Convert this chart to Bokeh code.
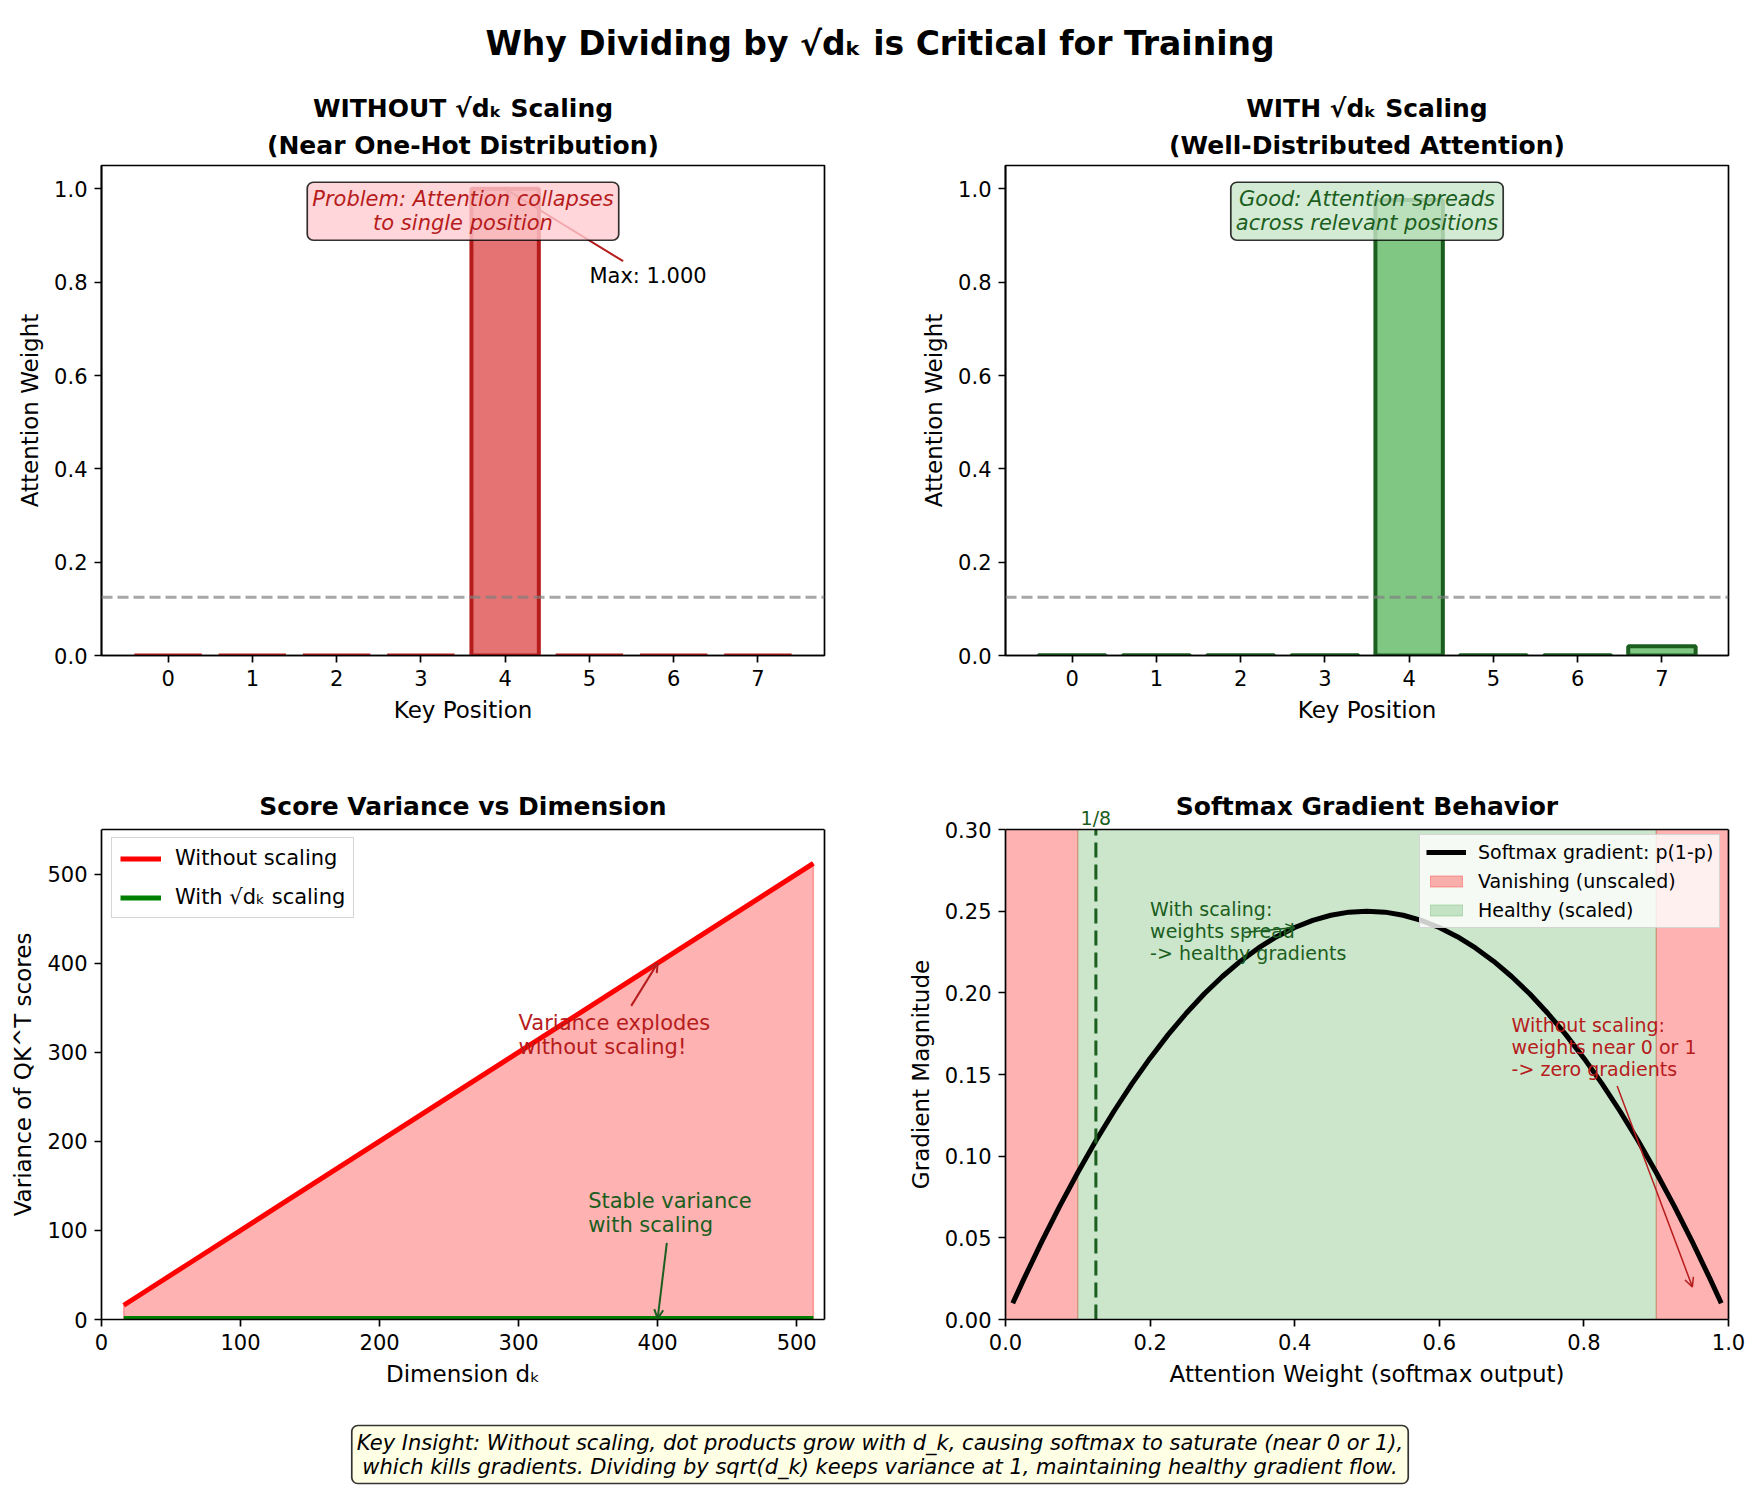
from bokeh.plotting import figure
from bokeh.models import (Range1d, FixedTicker, NumeralTickFormatter, Span, Label, Arrow,
                          OpenHead, Title, Legend, LegendItem, LinearAxis)
from bokeh.layouts import column, row
from bokeh.embed import file_html
from bokeh.resources import INLINE

FONT = "DejaVu Sans"

# --- attention weights over 8 key positions ---------------------------------
positions = [0, 1, 2, 3, 4, 5, 6, 7]
weights_unscaled = [0.0, 0.0, 0.0, 0.0, 1.0, 0.0, 0.0, 0.0]
weights_scaled = [0.0006, 0.0004, 0.0005, 0.0006, 0.976, 0.0005, 0.0004, 0.020]
attn_ticks = [0.0, 0.2, 0.4, 0.6, 0.8, 1.0]

# --- variance of QK^T scores vs key dimension ---------------------------------
dims = [16, 32, 64, 128, 256, 512]
var_unscaled = [16, 32, 64, 128, 256, 512]
var_scaled = [1, 1, 1, 1, 1, 1]
dim_ticks = [0, 100, 200, 300, 400, 500]
var_ticks = [0, 100, 200, 300, 400, 500]
var_ymax = 550

# --- softmax gradient p(1-p) ---------------------------------------------------
probs = [0.01, 0.025, 0.05, 0.075, 0.1, 0.125, 0.15, 0.175, 0.2, 0.225, 0.25,
         0.275, 0.3, 0.325, 0.35, 0.375, 0.4, 0.425, 0.45, 0.475, 0.5, 0.525,
         0.55, 0.575, 0.6, 0.625, 0.65, 0.675, 0.7, 0.725, 0.75, 0.775, 0.8,
         0.825, 0.85, 0.875, 0.9, 0.925, 0.95, 0.975, 0.99]
grads = [0.0099, 0.0244, 0.0475, 0.0694, 0.0900, 0.1094, 0.1275, 0.1444, 0.1600,
         0.1744, 0.1875, 0.1994, 0.2100, 0.2194, 0.2275, 0.2344, 0.2400, 0.2444,
         0.2475, 0.2494, 0.2500, 0.2494, 0.2475, 0.2444, 0.2400, 0.2344, 0.2275,
         0.2194, 0.2100, 0.1994, 0.1875, 0.1744, 0.1600, 0.1444, 0.1275, 0.1094,
         0.0900, 0.0694, 0.0475, 0.0244, 0.0099]
vanish_left = [0.0, 0.9]
vanish_right = [0.1, 1.0]
healthy_left = [0.1]
healthy_right = [0.9]
grad_ymax = 0.30
prob_ticks = [0.0, 0.2, 0.4, 0.6, 0.8, 1.0]
grad_ticks = [0.0, 0.05, 0.10, 0.15, 0.20, 0.25, 0.30]

uniform = 1 / len(positions)

RED_FILL, RED_EDGE = "#e57373", "#b71c1c"
GREEN_FILL, GREEN_EDGE = "#81c784", "#1b5e20"
RED_TEXT, GREEN_TEXT = "#b71c1c", "#1b5e20"

FRAME_W, FRAME_H = 723, 490
LINE_H = 1.0
LABEL_PX = 23


def style_axis(ax):
    ax.axis_line_width = 1.7
    ax.major_tick_line_width = 1.7
    ax.major_tick_out = 7
    ax.major_tick_in = 0
    ax.minor_tick_out = 0
    ax.minor_tick_in = 0
    ax.major_label_standoff = 7
    ax.major_label_text_font = FONT
    ax.major_label_text_font_size = "21px"
    ax.major_label_text_color = "black"
    ax.axis_label_text_font = FONT
    ax.axis_label_text_font_size = f"{LABEL_PX}px"
    ax.axis_label_text_font_style = "normal"
    ax.axis_label_text_color = "black"
    ax.axis_label_standoff = 8


def base_fig(width, left, right, top, bottom, x_range, y_range, frame_h=FRAME_H):
    p = figure(width=width, height=top + frame_h + bottom, x_range=x_range, y_range=y_range,
               output_backend="svg", toolbar_location=None,
               min_border_left=left, min_border_right=right,
               min_border_top=top, min_border_bottom=bottom)
    p.title = None
    p.xgrid.visible = False
    p.ygrid.visible = False
    p.outline_line_color = "black"
    p.outline_line_width = 1.7
    p.background_fill_color = "white"
    p.border_fill_color = "white"
    style_axis(p.xaxis[0])
    style_axis(p.yaxis[0])
    return p


def add_titles(p, lines, standoff):
    # Titles placed 'above' stack outward from the frame, so add the lowest line first
    for i, t in enumerate(reversed(lines)):
        p.add_layout(Title(text=t, align="center", text_font=FONT, text_font_size="25px",
                           text_font_style="bold", text_color="black",
                           standoff=standoff if i == 0 else 0), "above")


def note(p, x, y, text, color, size="21px", align="left", baseline="top", style="normal", **kw):
    lab = Label(x=x, y=y, text=text, text_font=FONT, text_font_size=size, text_color=color,
                text_align=align, text_baseline=baseline, text_font_style=style,
                text_line_height=LINE_H, **kw)
    p.add_layout(lab)
    return lab


def arrow(p, xs, ys, xe, ye, color, width=2):
    p.add_layout(Arrow(x_start=xs, y_start=ys, x_end=xe, y_end=ye, line_color=color,
                       line_width=width,
                       end=OpenHead(size=9, line_color=color, line_width=width)))


def legend(items, location, size, **kw):
    return Legend(items=items, location=location, label_text_font=FONT,
                  label_text_font_size=size, label_text_color="black", margin=10,
                  border_line_color="#cccccc", border_line_alpha=0.8,
                  background_fill_color="white", background_fill_alpha=0.8, **kw)


def attention_panel(width, left, right, weights, fill, edge, lines):
    p = base_fig(width, left, right, 85, 105, Range1d(-0.79, 7.79), Range1d(0, 1.05))
    add_titles(p, lines, 12)
    p.vbar(x=positions, top=weights, width=0.8, fill_color=fill, line_color=edge, line_width=4)
    p.add_layout(Span(location=uniform, dimension="width", line_color="gray", line_alpha=0.7,
                      line_dash="11 5", line_width=3))
    p.xaxis.ticker = FixedTicker(ticks=positions)
    p.yaxis.ticker = FixedTicker(ticks=attn_ticks)
    p.yaxis.formatter = NumeralTickFormatter(format="0.0")
    p.xaxis.axis_label = "Key Position"
    p.yaxis.axis_label = "Attention Weight"
    return p


TOP_BAND = 69
# em spaces appended to a vertical label keep it centred on the visible axes box
# rather than on the taller plotting area
Y_LABEL_PAD = "\u2003" * round(TOP_BAND / LABEL_PX)


def banded_panel(width, left, right, x_range, y_top, title):
    # The plotting area reaches up through the title band so labels may sit above
    # the top of the axes box; the visible box itself is drawn from 0 to y_top.
    ppu = FRAME_H / y_top
    p = base_fig(width, left, right, 0, 81, x_range,
                 Range1d(0, y_top * (FRAME_H + TOP_BAND) / FRAME_H),
                 frame_h=FRAME_H + TOP_BAND)
    p.outline_line_color = None
    p.yaxis[0].bounds = (0, y_top)
    spine = LinearAxis(bounds=(0, y_top), ticker=FixedTicker(ticks=[]),
                       major_tick_out=0, major_tick_in=0, minor_tick_out=0, minor_tick_in=0,
                       major_label_text_color=None, axis_line_width=1.7, axis_line_color="black")
    p.add_layout(spine, "right")
    p.add_layout(Span(location=y_top, dimension="width", line_color="black", line_width=1.7))
    note(p, (x_range.start + x_range.end) / 2, y_top + 23 / ppu, title, "black", size="25px",
         align="center", baseline="middle", style="bold")
    return p, ppu


BOX = dict(background_fill_alpha=0.8, border_line_color="black", border_line_alpha=0.8,
           border_line_width=1.7, padding=5, border_radius=6)

# --- top left: unscaled attention ----------------------------------------------
p1 = attention_panel(880, 101, 56, weights_unscaled, RED_FILL, RED_EDGE,
                     ["WITHOUT √dₖ Scaling", "(Near One-Hot Distribution)"])
peak = max(weights_unscaled)
peak_pos = positions[weights_unscaled.index(peak)]
arrow(p1, 5.4, 0.845, peak_pos, peak, RED_TEXT)
note(p1, 5.0, 0.814, f"Max: {peak:.3f}", "black", baseline="middle")
note(p1, 3.5, 0.952, "Problem: Attention collapses\nto single position", RED_TEXT,
     align="center", baseline="middle", style="italic",
     background_fill_color="#ffcdd2", **BOX)

# --- top right: scaled attention -----------------------------------------------
p2 = attention_panel(879, 125, 31, weights_scaled, GREEN_FILL, GREEN_EDGE,
                     ["WITH √dₖ Scaling", "(Well-Distributed Attention)"])
note(p2, 3.5, 0.952, "Good: Attention spreads\nacross relevant positions", GREEN_TEXT,
     align="center", baseline="middle", style="italic",
     background_fill_color="#c8e6c9", **BOX)

# --- bottom left: variance growth ----------------------------------------------
p3, _ = banded_panel(880, 101, 56, Range1d(0, 520), var_ymax, "Score Variance vs Dimension")
p3.patch(dims + dims[::-1], var_unscaled + var_scaled[::-1], fill_color="red", fill_alpha=0.3,
         line_color="red", line_alpha=0.3, line_width=1.5)
r_un = p3.line(dims, var_unscaled, line_color="red", line_width=5)
r_sc = p3.line(dims, var_scaled, line_color="green", line_width=5)
p3.xaxis[0].ticker = FixedTicker(ticks=dim_ticks)
p3.yaxis[0].ticker = FixedTicker(ticks=var_ticks)
p3.xaxis[0].axis_label = "Dimension dₖ"
p3.yaxis[0].axis_label = "Variance of QK^T scores" + Y_LABEL_PAD
arrow(p3, 381, 352, 400, 400, RED_TEXT)
note(p3, 300, 346, "Variance explodes\nwithout scaling!", RED_TEXT)
arrow(p3, 406.6, 86, 400, var_scaled[-1], GREEN_TEXT)
note(p3, 350, 146.5, "Stable variance\nwith scaling", GREEN_TEXT)
p3.add_layout(legend([LegendItem(label="Without scaling", renderers=[r_un]),
                      LegendItem(label="With √dₖ scaling", renderers=[r_sc])],
                     (10, 401), "21px", glyph_width=41, glyph_height=21, label_height=21,
                     label_standoff=14, spacing=15, padding=8))

# --- bottom right: softmax gradient --------------------------------------------
p4, g_ppu = banded_panel(879, 125, 31, Range1d(0, 1), grad_ymax, "Softmax Gradient Behavior")
r_van = p4.quad(left=vanish_left, right=vanish_right, bottom=0, top=grad_ymax,
                fill_color="red", fill_alpha=0.3, line_color="red", line_alpha=0.3, line_width=1)
r_hea = p4.quad(left=healthy_left, right=healthy_right, bottom=0, top=grad_ymax,
                fill_color="green", fill_alpha=0.2, line_color="green", line_alpha=0.2, line_width=1)
r_grad = p4.line(probs, grads, line_color="black", line_width=5, line_join="round")
p4.segment(x0=[uniform], y0=[0], x1=[uniform], y1=[grad_ymax], line_color=GREEN_EDGE,
           line_dash="15 7", line_width=3)
note(p4, uniform, grad_ymax + 1 / g_ppu, "1/8", GREEN_TEXT, size="19px",
     align="center", baseline="bottom")
p4.xaxis[0].ticker = FixedTicker(ticks=prob_ticks)
p4.yaxis[0].ticker = FixedTicker(ticks=grad_ticks)
p4.xaxis[0].formatter = NumeralTickFormatter(format="0.0")
p4.yaxis[0].formatter = NumeralTickFormatter(format="0.00")
p4.xaxis[0].axis_label = "Attention Weight (softmax output)"
p4.yaxis[0].axis_label = "Gradient Magnitude" + Y_LABEL_PAD
arrow(p4, 0.33, 0.237, 0.4, 0.24, GREEN_TEXT, 1.5)
note(p4, 0.2, 0.258, "With scaling:\nweights spread\n-> healthy gradients", GREEN_TEXT, size="19px")
arrow(p4, 0.846, 0.143, 0.95, 0.02, RED_TEXT, 1.5)
note(p4, 0.70, 0.187, "Without scaling:\nweights near 0 or 1\n-> zero gradients", RED_TEXT, size="19px")
p4.add_layout(legend([LegendItem(label="Softmax gradient: p(1-p)", renderers=[r_grad]),
                      LegendItem(label="Vanishing (unscaled)", renderers=[r_van]),
                      LegendItem(label="Healthy (scaled)", renderers=[r_hea])],
                     (414, 391), "19px", glyph_width=40, glyph_height=14, label_height=21,
                     label_standoff=12, spacing=7, padding=6))


# --- header and footer ---------------------------------------------------------
def banner(height):
    b = figure(width=1759, height=height, x_range=Range1d(0, 1759), y_range=Range1d(0, height),
               output_backend="svg", toolbar_location=None, min_border=0,
               x_axis_type=None, y_axis_type=None)
    b.title = None
    b.outline_line_color = None
    b.xgrid.visible = False
    b.ygrid.visible = False
    return b


head = banner(80)
note(head, 879.5, 37, "Why Dividing by √dₖ is Critical for Training", "black", size="33px",
     align="center", baseline="middle", style="bold")

foot = banner(90)
note(foot, 879.5, 36,
     "Key Insight: Without scaling, dot products grow with d_k, causing softmax to saturate (near 0 or 1),\n"
     "which kills gradients. Dividing by sqrt(d_k) keeps variance at 1, maintaining healthy gradient flow.",
     "black", align="center", baseline="middle", style="italic",
     background_fill_color="#ffffe0", **BOX)

layout = column(head, row(p1, p2), row(p3, p4), foot)
open("out.html", "w").write(file_html(layout, INLINE))
